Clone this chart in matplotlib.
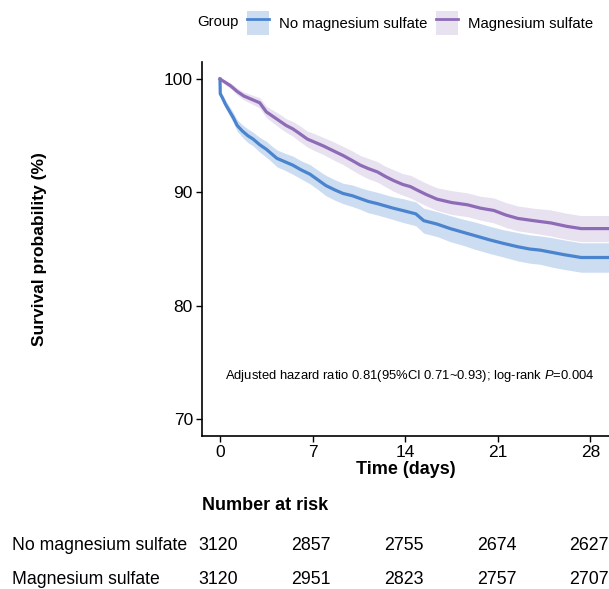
import matplotlib
matplotlib.use("Agg")
import matplotlib.pyplot as plt
from matplotlib.patches import Patch
from matplotlib.lines import Line2D
import numpy as np

plt.rcParams['font.family'] = ['Liberation Sans', 'DejaVu Sans']
plt.rcParams['mathtext.fontset'] = 'custom'
plt.rcParams['mathtext.it'] = 'Liberation Sans:italic'
plt.rcParams['mathtext.rm'] = 'Liberation Sans'

# Kaplan-Meier curves (days, survival %)
no_mg_time = [0, 0.02, 0.2, 0.4, 0.7, 1.0, 1.3, 1.7, 2.1, 2.5,
              3.0, 3.5, 3.9, 4.3, 4.9, 5.5, 6.1, 6.8, 7.4, 8.0,
              8.7, 9.3, 10.0, 10.6, 11.2, 11.9, 12.5, 13.1, 13.8, 14.8,
              15.4, 16.4, 17.4, 18.3, 19.2, 20.4, 21.4, 22.5, 23.4, 24.2,
              25.1, 26.0, 27.3, 29.4]
no_mg_surv = [100, 98.7, 98.3, 97.8, 97.2, 96.6, 95.9, 95.4, 95.0, 94.7,
              94.2, 93.8, 93.4, 93.0, 92.7, 92.4, 92.0, 91.6, 91.1, 90.6,
              90.2, 89.9, 89.7, 89.45, 89.2, 89.0, 88.8, 88.6, 88.4, 88.1,
              87.5, 87.2, 86.8, 86.5, 86.2, 85.8, 85.5, 85.2, 85.0, 84.9,
              84.7, 84.5, 84.25, 84.25]
no_mg_ci = [0, 0.2, 0.3, 0.35, 0.4, 0.45, 0.5, 0.55, 0.6, 0.6,
            0.65, 0.7, 0.7, 0.75, 0.75, 0.8, 0.8, 0.85, 0.85, 0.9,
            0.9, 0.9, 0.95, 0.95, 1.0, 1.0, 1.0, 1.0, 1.05, 1.05,
            1.1, 1.1, 1.15, 1.15, 1.2, 1.2, 1.2, 1.25, 1.25, 1.25,
            1.3, 1.3, 1.3, 1.3]

mg_time = [0, 0.4, 0.8, 1.3, 1.8, 2.4, 3.0, 3.5, 4.0, 4.5,
           5.0, 5.5, 6.0, 6.6, 7.2, 7.8, 8.5, 9.3, 10.0, 10.6,
           11.2, 11.9, 12.5, 13.1, 13.8, 14.4, 14.9, 15.6, 16.4, 17.5,
           18.7, 19.7, 20.7, 21.6, 22.5, 23.7, 25.0, 26.2, 27.3, 29.4]
mg_surv = [100, 99.7, 99.4, 98.9, 98.5, 98.2, 97.9, 97.1, 96.7, 96.3,
           95.9, 95.6, 95.2, 94.7, 94.4, 94.1, 93.7, 93.25, 92.8, 92.4,
           92.1, 91.8, 91.4, 91.05, 90.7, 90.5, 90.2, 89.8, 89.4, 89.1,
           88.9, 88.6, 88.4, 88.0, 87.7, 87.5, 87.3, 87.0, 86.8, 86.8]
mg_ci = [0, 0.2, 0.25, 0.3, 0.35, 0.4, 0.45, 0.5, 0.55, 0.6,
         0.6, 0.65, 0.7, 0.7, 0.75, 0.75, 0.8, 0.8, 0.85, 0.85,
         0.9, 0.9, 0.9, 0.95, 0.95, 1.0, 1.0, 1.0, 1.0, 1.05,
         1.05, 1.05, 1.1, 1.1, 1.1, 1.1, 1.15, 1.15, 1.15, 1.15]

groups = ["No magnesium sulfate", "Magnesium sulfate"]
risk_times = [0, 7, 14, 21, 28]
risk_no_mg = [3120, 2857, 2755, 2674, 2627]
risk_mg = [3120, 2951, 2823, 2757, 2707]

blue = '#4a84cf'
purple = '#8e6bb6'

W, H = 609, 589
fig = plt.figure(figsize=(W / 100, H / 100), dpi=100)
ax = fig.add_axes([202 / W, 1 - 436 / H, (W - 202) / W, (436 - 62) / H])

for t, s, c, col, a in [(no_mg_time, no_mg_surv, no_mg_ci, blue, 0.28),
                        (mg_time, mg_surv, mg_ci, purple, 0.2)]:
    t = np.array(t)
    s = np.array(s)
    c = np.array(c)
    ax.fill_between(t, s - c, s + c, color=col, alpha=a, lw=0)
    ax.plot(t, s, color=col, lw=2.3, solid_joinstyle='round')

ax.set_xlim(-1.36, 29.4)
ax.set_ylim(68.5, 101.5)
ax.set_xticks(risk_times)
ax.set_yticks([70, 80, 90, 100])
ax.spines['top'].set_visible(False)
ax.spines['right'].set_visible(False)
for sp in ['left', 'bottom']:
    ax.spines[sp].set_linewidth(1.2)
ax.tick_params(labelsize=12.5, length=4, width=1.0, colors='black', pad=2.5)
ax.set_xlabel("Time (days)", fontsize=13, fontweight='bold', labelpad=1)
fig.text(40 / W, 1 - 249 / H, "Survival probability (%)", rotation=90,
         fontsize=12.5, fontweight='bold', ha='center', va='center')

ax.text(0.35, 73.8, "Adjusted hazard ratio 0.81(95%CI 0.71~0.93); log-rank $\\it{P}$=0.004",
        fontsize=9.4, va='center', ha='left')

# legend
fig.text(197 / W, 1 - 22 / H, "Group", fontsize=10.7, va='center', ha='left')
handles = [(Patch(facecolor=blue, alpha=0.28, lw=0), Line2D([], [], color=blue, lw=2)),
           (Patch(facecolor=purple, alpha=0.2, lw=0), Line2D([], [], color=purple, lw=2))]
fig.legend(handles, groups, loc='center left', bbox_to_anchor=(247 / W, 1 - 23 / H),
           ncol=2, frameon=False, fontsize=10.7, handlelength=1.45, handleheight=2.1,
           handletextpad=0.7, columnspacing=0.6, borderpad=0, borderaxespad=0)

# risk table
fig.text(202 / W, 1 - 506 / H, "Number at risk", fontsize=13, fontweight='bold',
         ha='left', va='center')
trans = matplotlib.transforms.blended_transform_factory(ax.transData, fig.transFigure)
for name, vals, ypx in [(groups[0], risk_no_mg, 546), (groups[1], risk_mg, 580)]:
    fig.text(12 / W, 1 - ypx / H, name, fontsize=12.7, ha='left', va='center')
    for tt, v in zip(risk_times, vals):
        ax.text(tt - 0.1, 1 - ypx / H, str(v), transform=trans, fontsize=12.8,
                ha='center', va='center', clip_on=False)

fig.savefig("out.png", dpi=100)
